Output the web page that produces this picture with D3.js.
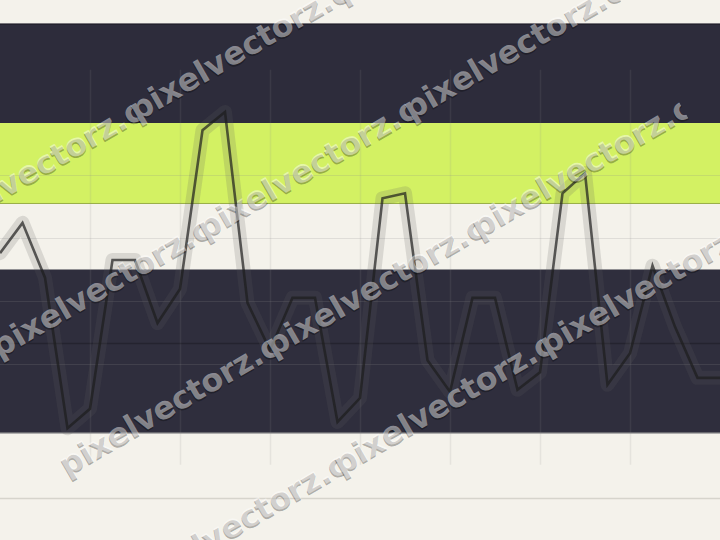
<!DOCTYPE html>
<html>
<head>
<meta charset="utf-8">
<script src="https://cdn.jsdelivr.net/npm/d3@7"></script>
<style>
  html, body { margin: 0; padding: 0; background: #f4f2eb; }
  svg { display: block; }
</style>
</head>
<body>
<div id="chart"></div>
<script>
// ---- data ----
const pointIndex = d3.range(0, 33);
const seriesValues = [17.6, 22.4, 13.7, -10.2, -7.1, 16.5, 16.5, 6.5, 11.9, 37.1, 40.0,
                      9.7, 2.2, 10.5, 10.5, -9.2, -5.4, 26.3, 27.1, 0.6, -4.4,
                      10.5, 10.5, -4.1, -1.3, 27.1, 30.3, -3.3, 1.7, 15.6, 5.9, -2.2, -2.2];
const bandFrom = [38.25, 25.4, -11];
const bandTo = [54, 38.25, 15];
const bandColors = ["#2d2c3b", "#d3f163", "#2f2e3d"];
const yTicks = [0, 10, 20, 30];
const xTicks = [4, 8, 12, 16, 20, 24, 28];
const plotLineValue = 3.33;
const axisValue = -21.3;
const watermarkText = "pixelvectorz.com";

const W = 720, H = 540;
const x = d3.scaleLinear().domain([0, 32]).range([0, W]);
const y = d3.scaleLinear().domain([-20, 50]).range([490, 49]);

const svg = d3.select("#chart").append("svg").attr("width", W).attr("height", H);
svg.append("rect").attr("width", W).attr("height", H).attr("fill", "#f4f2eb");

// bands
const bands = bandFrom.map((f, i) => ({from: f, to: bandTo[i], color: bandColors[i]}));
svg.append("g").selectAll("rect").data(bands).join("rect")
  .attr("x", 0).attr("width", W)
  .attr("y", d => y(d.to)).attr("height", d => y(d.from) - y(d.to))
  .attr("fill", d => d.color);
// band edges
svg.append("line").attr("x1", 0).attr("x2", W).attr("y1", y(bandTo[0]) + 0.5).attr("y2", y(bandTo[0]) + 0.5)
  .attr("stroke", "#23222e").attr("stroke-width", 1.5);
svg.append("line").attr("x1", 0).attr("x2", W).attr("y1", y(bandFrom[1]) - 0.5).attr("y2", y(bandFrom[1]) - 0.5)
  .attr("stroke", "rgba(0,0,0,0.28)").attr("stroke-width", 1);
svg.append("line").attr("x1", 0).attr("x2", W).attr("y1", y(bandFrom[2]) - 0.5).attr("y2", y(bandFrom[2]) - 0.5)
  .attr("stroke", "rgba(150,150,150,0.8)").attr("stroke-width", 1);

// grid
svg.append("g").selectAll("line").data(yTicks).join("line")
  .attr("x1", 0).attr("x2", W)
  .attr("y1", d => Math.round(y(d)) + 0.5).attr("y2", d => Math.round(y(d)) + 0.5)
  .attr("stroke", "rgba(140,140,140,0.2)").attr("stroke-width", 1.2);
svg.append("g").selectAll("line").data(xTicks).join("line")
  .attr("x1", d => Math.round(x(d)) + 0.5).attr("x2", d => Math.round(x(d)) + 0.5)
  .attr("y1", y(46.7)).attr("y2", y(-16))
  .attr("stroke", "rgba(140,140,140,0.14)").attr("stroke-width", 1.5);
svg.append("line").attr("x1", 0).attr("x2", W)
  .attr("y1", Math.round(y(plotLineValue)) + 0.5).attr("y2", Math.round(y(plotLineValue)) + 0.5)
  .attr("stroke", "rgba(0,0,0,0.22)").attr("stroke-width", 1.5);
svg.append("line").attr("x1", 0).attr("x2", W)
  .attr("y1", Math.round(y(axisValue)) + 0.5).attr("y2", Math.round(y(axisValue)) + 0.5)
  .attr("stroke", "#d6d4cc").attr("stroke-width", 1.5);

// series
const pts = pointIndex.map((i) => [i, seriesValues[i]]);
const line = d3.line().x(d => x(d[0])).y(d => y(d[1]));
svg.append("path").attr("d", line(pts)).attr("fill", "none")
  .attr("stroke", "rgba(95,95,95,0.18)").attr("stroke-width", 14)
  .attr("stroke-linejoin", "round").attr("stroke-linecap", "round");
svg.append("path").attr("d", line(pts)).attr("fill", "none")
  .attr("stroke", "rgba(28,28,28,0.7)").attr("stroke-width", 2.6)
  .attr("stroke-linejoin", "miter");

// watermark: tiled text, each clipped just past its tile width
const tileW = 238, tileH = 136;
const wm = svg.append("g").attr("transform", "rotate(-30)")
  .style("font-family", "'DejaVu Sans', sans-serif").style("font-weight", "bold").style("font-size", "31.6px");
const defs = svg.append("defs");
const cols = [0, 1, 2];
const rows = [0, 1, 2, 3];
cols.forEach(k => {
  const s0 = -180 + tileW * k;
  defs.append("clipPath").attr("id", "wmclip" + k).attr("clipPathUnits", "userSpaceOnUse")
    .append("rect").attr("x", s0 - 6).attr("y", -400).attr("width", tileW + 9).attr("height", 1600);
  const g = wm.append("g").attr("clip-path", "url(#wmclip" + k + ")");
  g.selectAll("text.sh").data(rows).join("text").attr("class", "sh")
    .attr("x", s0 - 1).attr("y", j => 174 + tileH * j + 1.5).text(watermarkText)
    .attr("fill", "rgba(0,0,0,0.3)");
  g.selectAll("text.fg").data(rows).join("text").attr("class", "fg")
    .attr("x", s0).attr("y", j => 174 + tileH * j).text(watermarkText)
    .attr("fill", "rgba(255,255,255,0.45)");
});
</script>
</body>
</html>
